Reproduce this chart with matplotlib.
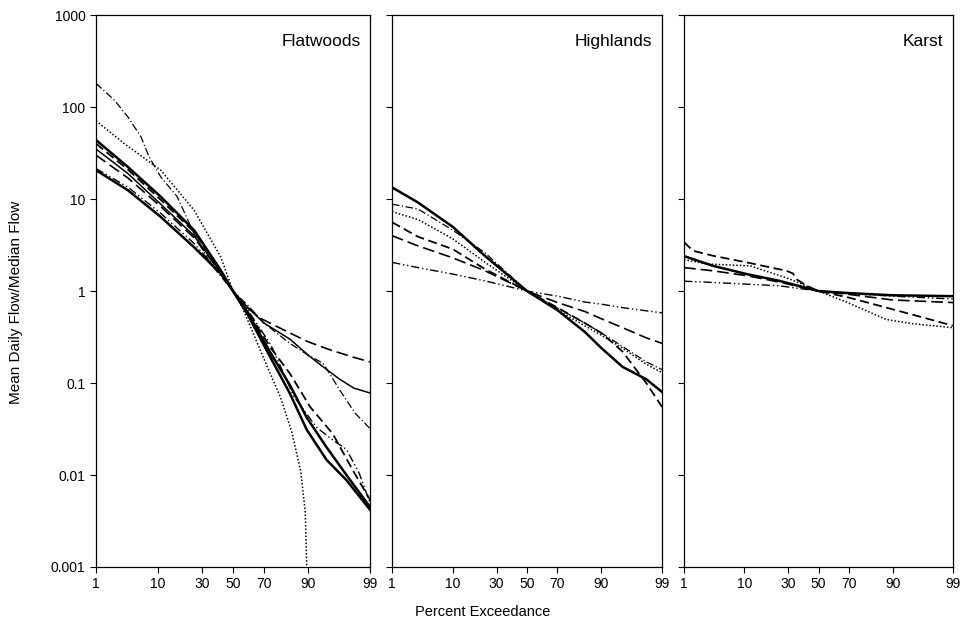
import matplotlib.pyplot as plt
import numpy as np
from statistics import NormalDist

plt.rcParams['font.family'] = ['Liberation Sans', 'DejaVu Sans']

# flow duration curves, percent exceedance vs. ratio to median flow
fw_p = {
    'a': [1, 2.2, 3.7, 5.9, 7.7, 11, 17.2, 25.4, 35, 50, 60, 70, 83.3, 90, 93.7, 96.5, 98.1, 99],
    'b': [1, 3.1, 11, 25.4, 41.7, 50, 56, 65, 72, 79, 84, 87.5, 89, 89.5],
    'c': [1, 3.7, 11, 25.4, 41.7, 50, 60, 74, 83.3, 89.5, 94.4, 97.3, 99],
    'd': [1, 3.7, 11, 25.4, 41.7, 50, 60, 70, 83.3, 90, 93.7, 96.5, 98, 99],
    'e': [1, 3.7, 11, 25.4, 41.7, 50, 60, 68.5, 83.3, 90, 95, 98, 99],
    'f': [1, 3.7, 11, 25.4, 41.7, 50, 60, 74, 85, 92.2, 95.5, 97.3, 98.4, 99],
    'g': [1, 3.7, 11, 25.4, 41.7, 50, 60, 74, 83.3, 89.5, 94.4, 97.3, 99],
    'h': [1, 3.7, 11, 25.4, 41.7, 50, 60, 74, 83.3, 90.5, 95.5, 97.9, 99],
}
fw_q = {
    'a': [181, 119, 78.5, 47.5, 28.8, 17.4, 10.6, 4.2, 2.0, 1.0, 0.7, 0.45, 0.27, 0.2, 0.164, 0.084, 0.047, 0.032],
    'b': [71, 41, 20.6, 7.6, 2.36, 1.0, 0.68, 0.3, 0.15, 0.07, 0.03, 0.011, 0.004, 0.001],
    'c': [43.8, 22.4, 10.6, 4.6, 1.69, 1.0, 0.55, 0.186, 0.077, 0.031, 0.0146, 0.0088, 0.0042],
    'd': [35, 19, 8.8, 4.0, 1.6, 1.0, 0.66, 0.45, 0.3, 0.2, 0.15, 0.11, 0.088, 0.078],
    'e': [30, 17, 8.3, 3.8, 1.6, 1.0, 0.65, 0.5, 0.35, 0.28, 0.23, 0.19, 0.17],
    'f': [21.5, 13.5, 7.0, 3.3, 1.55, 1.0, 0.62, 0.26, 0.071, 0.033, 0.024, 0.019, 0.0104, 0.005],
    'g': [20.6, 12.5, 6.4, 3.0, 1.55, 1.0, 0.58, 0.21, 0.095, 0.042, 0.02, 0.01, 0.0045],
    'h': [40, 21, 9.8, 4.4, 1.65, 1.0, 0.6, 0.24, 0.127, 0.055, 0.028, 0.0113, 0.0054],
}

hl_p = [1, 3, 10, 23.5, 50, 70, 84, 90, 95, 98, 99]
hl_q = {
    'c': [13.4, 9.2, 5.0, 2.4, 1.0, 0.62, 0.36, 0.24, 0.15, 0.11, 0.08],
    'a': [8.8, 7.8, 4.6, 2.6, 1.0, 0.65, 0.45, 0.35, 0.25, 0.17, 0.14],
    'b': [7.3, 6.0, 3.7, 2.05, 1.0, 0.62, 0.42, 0.33, 0.24, 0.16, 0.13],
    'h': [5.6, 3.9, 2.86, 1.73, 1.0, 0.66, 0.45, 0.35, 0.22, 0.1, 0.055],
    'e': [4.0, 3.1, 2.3, 1.66, 1.0, 0.75, 0.6, 0.5, 0.4, 0.31, 0.27],
    'f': [2.05, 1.8, 1.53, 1.29, 1.0, 0.88, 0.76, 0.72, 0.66, 0.61, 0.58],
}

ks_p = {
    'h': [1, 1.5, 3.4, 10.7, 29, 33, 35, 42, 50, 70, 88, 95, 99],
    'b': [1, 2.7, 11.9, 15.6, 31, 50, 68.5, 88, 95, 99],
    'c': [1, 3.4, 10.7, 25, 50, 70, 90, 99],
    'e': [1, 3.4, 10.7, 25, 50, 70, 90, 99],
    'f': [1, 3.4, 25, 50, 70, 90, 99],
}
ks_q = {
    'h': [3.4, 2.74, 2.42, 2.05, 1.66, 1.55, 1.35, 1.14, 1.0, 0.85, 0.66, 0.55, 0.42],
    'b': [2.2, 1.97, 1.88, 1.73, 1.35, 1.0, 0.76, 0.49, 0.44, 0.40],
    'c': [2.4, 1.88, 1.53, 1.29, 1.0, 0.95, 0.9, 0.88],
    'e': [1.8, 1.66, 1.47, 1.25, 1.0, 0.92, 0.8, 0.75],
    'f': [1.28, 1.24, 1.14, 1.0, 0.94, 0.88, 0.82],
}

regions = ['Flatwoods', 'Highlands', 'Karst']
xticks = [1, 10, 30, 50, 70, 90, 99]
yticks = [0.001, 0.01, 0.1, 1, 10, 100, 1000]
ylabels = ['0.001', '0.01', '0.1', '1', '10', '100', '1000']

styles = {
    'a': dict(ls=(0, (6, 2, 1, 2)), lw=0.9),
    'b': dict(ls=(0, (1, 1.3)), lw=1.1),
    'c': dict(ls='-', lw=1.8),
    'd': dict(ls='-', lw=1.1),
    'e': dict(ls=(0, (7, 3)), lw=1.2),
    'f': dict(ls=(0, (6, 2, 1, 2, 1, 2)), lw=1.0),
    'g': dict(ls='-', lw=1.8),
    'h': dict(ls=(0, (5, 2.5)), lw=1.3),
}

nd = NormalDist()


def z(p):
    return np.array([nd.inv_cdf(v / 100.0) for v in p])


fig = plt.figure(figsize=(9.63, 6.30), dpi=100)
boxes = [[0.0997, 0.1, 0.2845, 0.876],
         [0.4071, 0.1, 0.2804, 0.876],
         [0.7103, 0.1, 0.2793, 0.876]]
axes = [fig.add_axes(b) for b in boxes]

for key in fw_p:
    axes[0].plot(z(fw_p[key]), fw_q[key], color='black', **styles[key])
for key in hl_q:
    axes[1].plot(z(hl_p), hl_q[key], color='black', **styles[key])
for key in ks_p:
    axes[2].plot(z(ks_p[key]), ks_q[key], color='black', **styles[key])

for i, ax in enumerate(axes):
    ax.set_yscale('log')
    ax.set_ylim(0.001, 1000)
    ax.set_xlim(nd.inv_cdf(0.01), nd.inv_cdf(0.99))
    ax.set_xticks(z(xticks))
    ax.set_xticklabels([str(t) for t in xticks])
    ax.set_yticks(yticks)
    ax.yaxis.set_minor_locator(plt.NullLocator())
    if i == 0:
        ax.set_yticklabels(ylabels)
    else:
        ax.set_yticklabels([])
    ax.tick_params(direction='out', length=4, width=0.8, labelsize=10, colors='black')
    for s in ax.spines.values():
        s.set_linewidth(0.9)
    ax.text(0.965, 0.965, regions[i], transform=ax.transAxes,
            ha='right', va='top', fontsize=12.5)

fig.text(16 / 963, 1 - 302 / 630, 'Mean Daily Flow/Median Flow', rotation=90,
         ha='center', va='center', fontsize=11)
fig.text(483 / 963, 0.018, 'Percent Exceedance', ha='center', va='bottom', fontsize=10.5)

fig.savefig('out.png', dpi=100)
